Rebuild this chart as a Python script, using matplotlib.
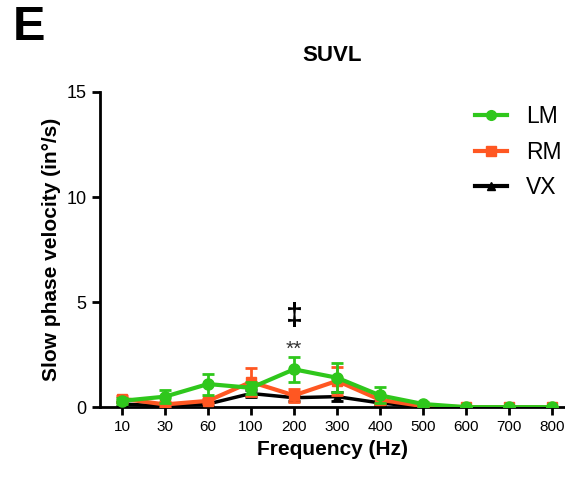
import numpy as np
import matplotlib.pyplot as plt
from matplotlib.lines import Line2D

plt.rcParams['font.family'] = ['Liberation Sans', 'DejaVu Sans']

freqs = ['10', '30', '60', '100', '200', '300', '400', '500', '600', '700', '800']

lm = [0.3, 0.5, 1.1, 0.92, 1.8, 1.4, 0.56, 0.15, 0, 0, 0]
lm_err = [0.15, 0.3, 0.5, 0.3, 0.6, 0.7, 0.38, 0.1, 0, 0, 0]
rm = [0.4, 0.13, 0.3, 1.2, 0.56, 1.25, 0.35, 0.05, 0, 0, 0]
rm_err = [0.15, 0.1, 0.1, 0.65, 0.3, 0.65, 0.2, 0.05, 0, 0, 0]
vx = [0.15, 0.05, 0.15, 0.65, 0.45, 0.5, 0.2, 0.0, 0, 0, 0]
vx_err = [0.1, 0.05, 0.1, 0.15, 0.15, 0.2, 0.1, 0.05, 0, 0, 0]

green = '#2fc71c'
orange = '#ff5722'

fig = plt.figure(figsize=(5.65, 4.79), dpi=100)
ax = fig.add_axes([0.177, 0.150, 0.823, 0.658])

x = np.arange(len(freqs))
ax.errorbar(x, vx, yerr=vx_err, color='black', marker='^', markersize=6, lw=2.5,
            capsize=4, capthick=2, elinewidth=2, zorder=3)
ax.errorbar(x, rm, yerr=rm_err, color=orange, marker='s', markersize=7, lw=3,
            capsize=4, capthick=2, elinewidth=2, zorder=4)
ax.errorbar(x, lm, yerr=lm_err, color=green, marker='o', markersize=8, lw=3,
            capsize=4, capthick=2, elinewidth=2, zorder=5)

# significance marks above 200 Hz
ax.text(4, 4.3, '‡', ha='center', va='center', fontsize=22, fontweight='bold')
ax.text(4, 2.75, '**', ha='center', va='center', fontsize=15, color='#333333')

ax.set_xlim(-0.51, 10.3)
ax.set_ylim(0, 15)
ax.set_xticks(x)
ax.set_xticklabels(freqs, fontsize=11)
ax.set_yticks([0, 5, 10, 15])
ax.tick_params(axis='y', labelsize=13, width=2, length=6)
ax.tick_params(axis='x', width=2, length=6)
for s in ['top', 'right']:
    ax.spines[s].set_visible(False)
for s in ['left', 'bottom']:
    ax.spines[s].set_linewidth(2)

ax.set_xlabel('Frequency (Hz)', fontsize=15, fontweight='bold')
ax.set_ylabel('Slow phase velocity (in°/s)', fontsize=15, fontweight='bold')
ax.set_title('SUVL', fontsize=16, fontweight='bold', pad=22)

handles = [Line2D([], [], color=green, marker='o', markersize=7, lw=3),
           Line2D([], [], color=orange, marker='s', markersize=7, lw=3),
           Line2D([], [], color='black', marker='^', markersize=6, lw=3)]
ax.legend(handles, ['LM', 'RM', 'VX'], loc='upper left', bbox_to_anchor=(0.786, 0.988),
          frameon=False, fontsize=16.5, handlelength=1.4, handletextpad=0.85,
          labelspacing=0.55, borderaxespad=0)

fig.text(0.022, 0.99, 'E', fontsize=35, fontweight='bold', va='top')

fig.savefig('out.png', dpi=100)
